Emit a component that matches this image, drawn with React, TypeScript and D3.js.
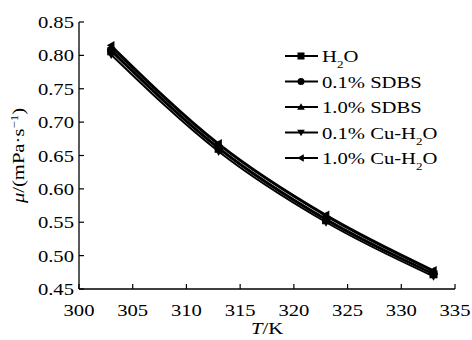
import { useEffect, useRef } from 'react';
import * as d3 from 'd3';

const temps = [303, 313, 323, 333];
const seriesNames = ['H\u2082O', '0.1% SDBS', '1.0% SDBS', '0.1% Cu-H\u2082O', '1.0% Cu-H\u2082O'];
const h2o = [0.806, 0.660, 0.553, 0.472];
const sdbs01 = [0.808, 0.662, 0.555, 0.473];
const sdbs10 = [0.812, 0.666, 0.559, 0.476];
const cu01 = [0.801, 0.656, 0.550, 0.469];
const cu10 = [0.815, 0.668, 0.561, 0.478];
const markerTypes = ['square', 'circle', 'up', 'down', 'left'];
const xTicks = [300, 305, 310, 315, 320, 325, 330, 335];
const yTicks = [0.45, 0.5, 0.55, 0.6, 0.65, 0.7, 0.75, 0.8, 0.85];

const W = 472;
const H = 340;
const FONT = '"Liberation Serif", "Times New Roman", serif';
const SX = 1.18; // glyphs in the original look horizontally stretched

function markerPath(type: string, s: number) {
  const h = s / 2;
  if (type === 'square') return `M${-h},${-h}H${h}V${h}H${-h}Z`;
  if (type === 'circle') return `M${h},0A${h},${h} 0 1,1 ${-h},0A${h},${h} 0 1,1 ${h},0Z`;
  if (type === 'up') return `M0,${-h * 1.1}L${h * 1.1},${h * 0.8}L${-h * 1.1},${h * 0.8}Z`;
  if (type === 'down') return `M0,${h * 1.1}L${h * 1.1},${-h * 0.8}L${-h * 1.1},${-h * 0.8}Z`;
  return `M${-h * 1.1},0L${h * 0.8},${-h * 1.1}L${h * 0.8},${h * 1.1}Z`;
}

export default function App() {
  const svgRef = useRef<SVGSVGElement>(null);

  useEffect(() => {
    if (!svgRef.current) return;
    const svg = d3.select(svgRef.current);
    svg.selectAll('*').remove();

    const margin = { top: 22, right: 17, bottom: 51, left: 79 };
    const x = d3.scaleLinear().domain([300, 335]).range([margin.left, W - margin.right]);
    const y = d3.scaleLinear().domain([0.45, 0.85]).range([H - margin.bottom, margin.top]);

    const addText = (px: number, py: number, anchor: string) =>
      svg.append('text')
        .attr('transform', `translate(${px},${py}) scale(${SX},1)`)
        .attr('text-anchor', anchor)
        .attr('font-family', FONT)
        .attr('font-size', 17.5)
        .attr('fill', '#000');

    // axes
    svg.append('line').attr('x1', x(300)).attr('x2', x(335)).attr('y1', y(0.45)).attr('y2', y(0.45))
      .attr('stroke', '#000').attr('stroke-width', 1.3);
    svg.append('line').attr('x1', x(300)).attr('x2', x(300)).attr('y1', y(0.45)).attr('y2', y(0.85))
      .attr('stroke', '#000').attr('stroke-width', 1.3);

    xTicks.forEach(t => {
      svg.append('line').attr('x1', x(t)).attr('x2', x(t)).attr('y1', y(0.45)).attr('y2', y(0.45) - 5)
        .attr('stroke', '#000').attr('stroke-width', 1.2);
      addText(x(t), 316, 'middle').text(String(t));
    });
    yTicks.forEach(t => {
      svg.append('line').attr('x1', x(300)).attr('x2', x(300) + 5).attr('y1', y(t)).attr('y2', y(t))
        .attr('stroke', '#000').attr('stroke-width', 1.2);
      addText(x(300) - 5, y(t) + 6, 'end').text(t.toFixed(2));
    });

    // axis titles
    const xt = addText(x(317.5), 334, 'middle');
    xt.append('tspan').attr('font-style', 'italic').text('T');
    xt.append('tspan').text('/K');

    const yt = svg.append('text')
      .attr('transform', `translate(24,${(y(0.45) + y(0.85)) / 2}) rotate(-90) scale(${SX},1)`)
      .attr('text-anchor', 'middle')
      .attr('font-family', FONT)
      .attr('font-size', 17.5)
      .attr('fill', '#000');
    yt.append('tspan').attr('font-style', 'italic').text('\u03bc');
    yt.append('tspan').text('/(mPa\u00b7s');
    yt.append('tspan').attr('baseline-shift', 'super').attr('font-size', 11).text('\u22121');
    yt.append('tspan').text(')');

    // series
    const allSeries = [h2o, sdbs01, sdbs10, cu01, cu10];
    const line = d3.line<number>()
      .x((_, i) => x(temps[i]))
      .y(d => y(d))
      .curve(d3.curveMonotoneX);

    allSeries.forEach((vals, si) => {
      svg.append('path').attr('d', line(vals)).attr('fill', 'none')
        .attr('stroke', '#000').attr('stroke-width', 2);
      vals.forEach((v, i) => {
        svg.append('path')
          .attr('d', markerPath(markerTypes[si], 8))
          .attr('transform', `translate(${x(temps[i])},${y(v)})`)
          .attr('fill', '#000');
      });
    });

    // legend
    const legY = d3.scaleLinear().domain([0, 4]).range([56, 158]);
    seriesNames.forEach((name, i) => {
      const ly = legY(i);
      svg.append('line').attr('x1', 285).attr('x2', 318).attr('y1', ly).attr('y2', ly)
        .attr('stroke', '#000').attr('stroke-width', 2);
      svg.append('path').attr('d', markerPath(markerTypes[i], 7))
        .attr('transform', `translate(301,${ly})`).attr('fill', '#000');
      const t = addText(322, ly + 6, 'start');
      const parts = name.split('\u2082');
      if (parts.length > 1) {
        t.append('tspan').text(parts[0]);
        t.append('tspan').attr('baseline-shift', 'sub').attr('font-size', 11).text('2');
        t.append('tspan').text(parts[1]);
      } else {
        t.text(name);
      }
    });
  }, []);

  return (
    <svg ref={svgRef} width={W} height={H}
      style={{ position: 'absolute', left: 0, top: 0, background: '#fff' }} />
  );
}
